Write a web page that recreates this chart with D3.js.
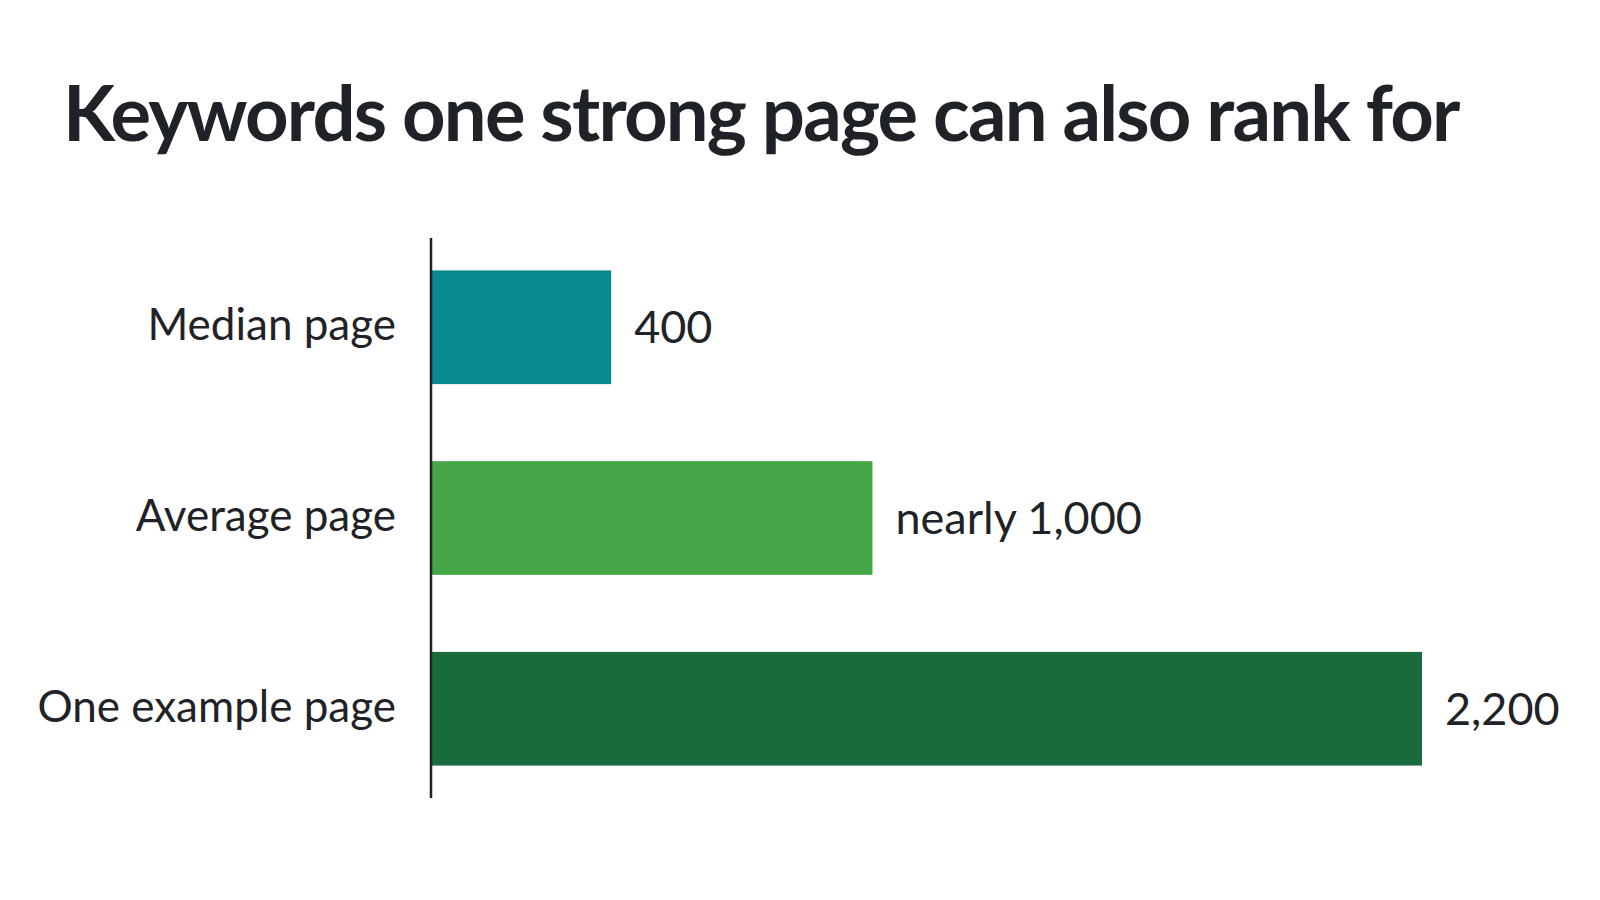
<!DOCTYPE html>
<html>
<head>
<meta charset="utf-8">
<script src="https://cdn.jsdelivr.net/npm/d3@7"></script>
<style>
    body { margin: 0; background: #ffffff; }
    svg { display: block; }
    text { font-family: Lato, "Open Sans", sans-serif; fill: #1f2327; }
</style>
</head>
<body>
<div id="chart"></div>
<script>
// Data
const titleText = "Keywords one strong page can also rank for";
const categories = ["Median page", "Average page", "One example page"];
const values = [400, 980, 2200];
const valueLabels = ["400", "nearly 1,000", "2,200"];
const barColors = ["#07898f", "#44a646", "#176b3d"];

const width = 1600;
const height = 900;

const svg = d3.select("#chart")
    .append("svg")
        .attr("width", width)
        .attr("height", height);

// Title
svg.append("text")
    .attr("x", 63)
    .attr("y", 141)
    .attr("font-size", 76)
    .attr("font-weight", 700)
    .attr("letter-spacing", -1.8)
    .text(titleText);

// Scales
const y = d3.scaleBand()
    .domain(categories)
    .range([238, 798])
    .paddingInner(0.404)
    .paddingOuter(0.17);

const x = d3.scaleLinear()
    .domain([0, d3.max(values)])
    .range([431, 1422]);

const rows = categories.map((c, i) => ({ category: c, value: values[i], label: valueLabels[i], color: barColors[i] }));

// Bars
svg.append("g")
    .selectAll("rect")
    .data(rows)
    .enter()
    .append("rect")
        .attr("x", x(0))
        .attr("y", d => y(d.category))
        .attr("width", d => x(d.value) - x(0))
        .attr("height", y.bandwidth())
        .attr("fill", d => d.color);

// Category labels
svg.append("g")
    .selectAll("text")
    .data(rows)
    .enter()
    .append("text")
        .attr("x", x(0) - 35)
        .attr("y", d => y(d.category) + y.bandwidth() / 2)
        .attr("dy", "0.3em")
        .attr("text-anchor", "end")
        .attr("font-size", 44)
        .text(d => d.category);

// Value labels
svg.append("g")
    .selectAll("text")
    .data(rows)
    .enter()
    .append("text")
        .attr("x", d => x(d.value) + 23)
        .attr("y", d => y(d.category) + y.bandwidth() / 2)
        .attr("dy", "0.36em")
        .attr("font-size", 45)
        .text(d => d.label);

// Vertical baseline
svg.append("line")
    .attr("x1", x(0))
    .attr("x2", x(0))
    .attr("y1", y.range()[0])
    .attr("y2", y.range()[1])
    .attr("stroke", "#1f2327")
    .attr("stroke-width", 2.5);
</script>
</body>
</html>
